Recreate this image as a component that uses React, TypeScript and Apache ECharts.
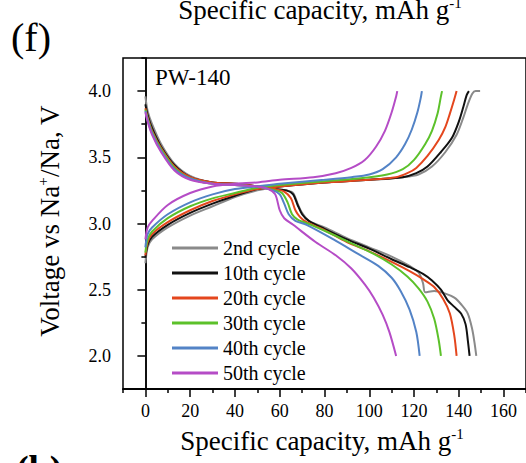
import React, { useEffect, useRef } from "react";
import * as echarts from "echarts";

const cycleNames = ["2nd cycle", "10th cycle", "20th cycle", "30th cycle", "40th cycle", "50th cycle"];
const cycleColors = ["#8a8a8a", "#111111", "#e4461d", "#5cc12a", "#5383c6", "#b54cc6"];

const xTickValues = [0, 20, 40, 60, 80, 100, 120, 140, 160];
const xMinorValues = [-10, 10, 30, 50, 70, 90, 110, 130, 150, 170];
const yTickValues = [2.0, 2.5, 3.0, 3.5, 4.0];
const yMinorValues = [1.75, 2.25, 2.75, 3.25, 3.75, 4.25];

const charge2 = [[0,2.70],[1,2.82],[3,2.88],[10,2.97],[20,3.06],[30,3.13],[40,3.20],[50,3.25],[60,3.28],[80,3.31],[100,3.33],[115,3.35],[122,3.37],[128,3.43],[134,3.54],[139,3.67],[142,3.80],[144,3.90],[146,3.98],[147.5,4.0],[149.5,4.0]];
const charge10 = [[0,2.74],[1,2.84],[3,2.90],[10,2.99],[20,3.08],[30,3.15],[40,3.21],[50,3.26],[60,3.28],[80,3.31],[100,3.33],[115,3.35],[121,3.38],[126,3.43],[132,3.54],[137,3.65],[140,3.77],[142,3.88],[143.5,3.97],[144.5,4.0]];
const charge20 = [[0,2.76],[1,2.86],[3,2.92],[10,3.01],[20,3.10],[30,3.17],[40,3.22],[50,3.26],[60,3.28],[80,3.31],[100,3.33],[112,3.35],[117,3.38],[121,3.42],[126,3.51],[131,3.63],[134,3.73],[136,3.83],[138,3.94],[139,4.0]];
const charge30 = [[0,2.78],[1,2.88],[3,2.94],[10,3.04],[20,3.13],[30,3.19],[40,3.23],[50,3.27],[60,3.29],[80,3.32],[95,3.34],[108,3.37],[115,3.41],[120,3.48],[125,3.60],[128,3.70],[130.5,3.83],[132,3.96],[132.5,4.0]];
const charge40 = [[0,2.82],[1,2.92],[3,2.97],[10,3.07],[20,3.16],[30,3.22],[40,3.26],[50,3.28],[60,3.30],[80,3.33],[92,3.35],[100,3.37],[106,3.41],[112,3.50],[116,3.60],[119,3.71],[121.5,3.84],[123,3.95],[123.5,4.0]];
const charge50 = [[0,2.88],[1,2.97],[3,3.02],[10,3.14],[20,3.23],[30,3.28],[40,3.30],[50,3.31],[60,3.33],[75,3.35],[85,3.38],[92,3.42],[98,3.48],[103,3.58],[107,3.70],[110,3.84],[112,3.96],[112.5,4.0]];

const discharge2 = [[0,3.96],[1,3.85],[3,3.75],[7,3.60],[13,3.45],[20,3.36],[30,3.31],[40,3.30],[50,3.28],[58,3.26],[63,3.25],[66,3.23],[68,3.15],[70,3.08],[73,3.02],[80,2.97],[90,2.89],[100,2.82],[110,2.75],[118,2.68],[122,2.63],[124,2.55],[125,2.48],[129,2.49],[134,2.47],[138,2.44],[141,2.39],[144,2.32],[146,2.20],[147,2.10],[147.8,2.0]];
const discharge10 = [[0,3.90],[1,3.82],[3,3.72],[7,3.58],[13,3.44],[20,3.35],[30,3.31],[40,3.30],[50,3.28],[58,3.26],[63,3.25],[66,3.22],[68,3.14],[70,3.07],[73,3.02],[80,2.96],[90,2.88],[100,2.81],[110,2.73],[118,2.67],[124,2.62],[128,2.57],[132,2.50],[135,2.42],[138,2.37],[141,2.32],[143,2.24],[144,2.12],[144.8,2.0]];
const discharge20 = [[0,3.87],[1,3.80],[3,3.70],[7,3.57],[13,3.43],[20,3.35],[30,3.31],[40,3.30],[50,3.28],[58,3.26],[62,3.24],[65,3.19],[67,3.10],[69,3.05],[72,3.01],[80,2.95],[90,2.86],[100,2.79],[110,2.71],[118,2.64],[124,2.58],[129,2.52],[133,2.43],[136,2.32],[138,2.15],[139,2.0]];
const discharge30 = [[0,3.86],[1,3.79],[3,3.69],[7,3.56],[13,3.42],[20,3.34],[30,3.30],[40,3.29],[50,3.28],[58,3.25],[61,3.23],[63.5,3.16],[65.5,3.07],[68,3.03],[74,2.99],[82,2.93],[92,2.85],[102,2.77],[110,2.69],[117,2.60],[122,2.51],[126,2.41],[129,2.28],[131,2.12],[132,2.0]];
const discharge40 = [[0,3.85],[1,3.78],[3,3.68],[7,3.55],[13,3.41],[20,3.34],[30,3.30],[40,3.29],[50,3.28],[57,3.25],[60,3.22],[62,3.15],[64,3.07],[67,3.02],[72,2.99],[84,2.88],[95,2.77],[104,2.68],[110,2.59],[114,2.49],[118,2.35],[121,2.18],[122.5,2.0]];
const discharge50 = [[0,3.84],[1,3.77],[3,3.67],[7,3.54],[13,3.40],[20,3.33],[30,3.30],[40,3.29],[50,3.28],[55,3.26],[58,3.22],[60,3.10],[62,3.04],[66,2.99],[76,2.86],[85,2.76],[92,2.66],[98,2.54],[102,2.44],[106,2.31],[109,2.18],[112,2.0]];

const chargeCurves = [charge2, charge10, charge20, charge30, charge40, charge50];
const dischargeCurves = [discharge2, discharge10, discharge20, discharge30, discharge40, discharge50];

const FONT = "Liberation Serif";

export default function App() {
  const ref = useRef<HTMLDivElement>(null);
  useEffect(() => {
    if (!ref.current) return;
    const chart = echarts.init(ref.current, null, { renderer: "svg" });
    const series: any[] = [];
    cycleNames.forEach((name, i) => {
      [chargeCurves[i], dischargeCurves[i]].forEach((d) => {
        series.push({
          type: "line",
          name,
          data: d,
          xAxisIndex: 0,
          yAxisIndex: 0,
          showSymbol: false,
          symbol: "none",
          smooth: 0.3,
          color: cycleColors[i],
          lineStyle: { width: 2, color: cycleColors[i] },
        });
      });
    });
    const axisCommon = {
      axisLine: { show: true, lineStyle: { color: "#000", width: 1.5 } },
      splitLine: { show: false },
    };
    const titleRich = {
      a: { fontSize: 27, fontFamily: FONT, lineHeight: 30, color: "#000" },
      s: { fontSize: 15, fontFamily: FONT, verticalAlign: "top", lineHeight: 16, color: "#000" },
    };
    chart.setOption({
      animation: false,
      textStyle: { fontFamily: FONT },
      grid: { left: 123, top: 58, right: -6, bottom: 74, show: true, borderColor: "#000", borderWidth: 1.5, containLabel: false },
      xAxis: [
        {
          type: "value", min: -10, max: 170, position: "bottom", ...axisCommon,
          axisTick: { show: true, customValues: xTickValues, length: 8, inside: false, lineStyle: { color: "#000", width: 1.5 } },
          axisLabel: { show: true, customValues: xTickValues, fontSize: 18, color: "#000", margin: 13, fontFamily: FONT },
        },
        {
          type: "value", min: -10, max: 170, position: "bottom", ...axisCommon,
          axisTick: { show: true, customValues: xMinorValues, length: 4, inside: false, lineStyle: { color: "#000", width: 1.5 } },
          axisLabel: { show: false },
        },
      ],
      yAxis: [
        {
          type: "value", min: 1.75, max: 4.25, position: "left", ...axisCommon,
          axisTick: { show: true, customValues: yTickValues, length: 8, inside: false, lineStyle: { color: "#000", width: 1.5 } },
          axisLabel: { show: true, customValues: yTickValues, fontSize: 18, color: "#000", margin: 12, fontFamily: FONT, formatter: (v: number) => v.toFixed(1) },
        },
        {
          type: "value", min: 1.75, max: 4.25, position: "left", ...axisCommon,
          axisTick: { show: true, customValues: yMinorValues, length: 4, inside: false, lineStyle: { color: "#000", width: 1.5 } },
          axisLabel: { show: false },
        },
      ],
      legend: {
        data: cycleNames,
        orient: "vertical",
        left: 172,
        top: 238,
        itemWidth: 46,
        itemHeight: 3,
        icon: "rect",
        itemGap: 5,
        padding: 0,
        textStyle: { fontSize: 20, color: "#000", fontFamily: FONT, lineHeight: 20 },
      },
      graphic: [
        { type: "text", left: 11, top: 17, style: { text: "(f)", fontSize: 40, fontFamily: FONT, fill: "#000" } },
        {
          type: "text", x: 320, y: 10,
          style: { text: "{a|Specific capacity, mAh g}{s|-1}", align: "center", verticalAlign: "middle", fill: "#000", rich: titleRich },
        },
        {
          type: "text", x: 322, y: 441,
          style: { text: "{a|Specific capacity, mAh g}{s|-1}", align: "center", verticalAlign: "middle", fill: "#000", rich: titleRich },
        },
        {
          type: "text", x: 50, y: 221, rotation: Math.PI / 2,
          style: { text: "{a|Voltage vs Na}{s|+}{a|/Na, V}", align: "center", verticalAlign: "middle", fill: "#000", rich: titleRich },
        },
        { type: "text", left: 155, top: 66, style: { text: "PW-140", fontSize: 23, fontFamily: FONT, fill: "#000" } },
        { type: "text", left: 16, top: 450, style: { text: "(b)", fontSize: 38, fontWeight: "bold", fontFamily: FONT, fill: "#000" } },
      ],
      series,
    });
    return () => chart.dispose();
  }, []);
  return <div ref={ref} style={{ position: "fixed", left: 0, top: 0, width: 526, height: 463, background: "#fff" }} />;
}
